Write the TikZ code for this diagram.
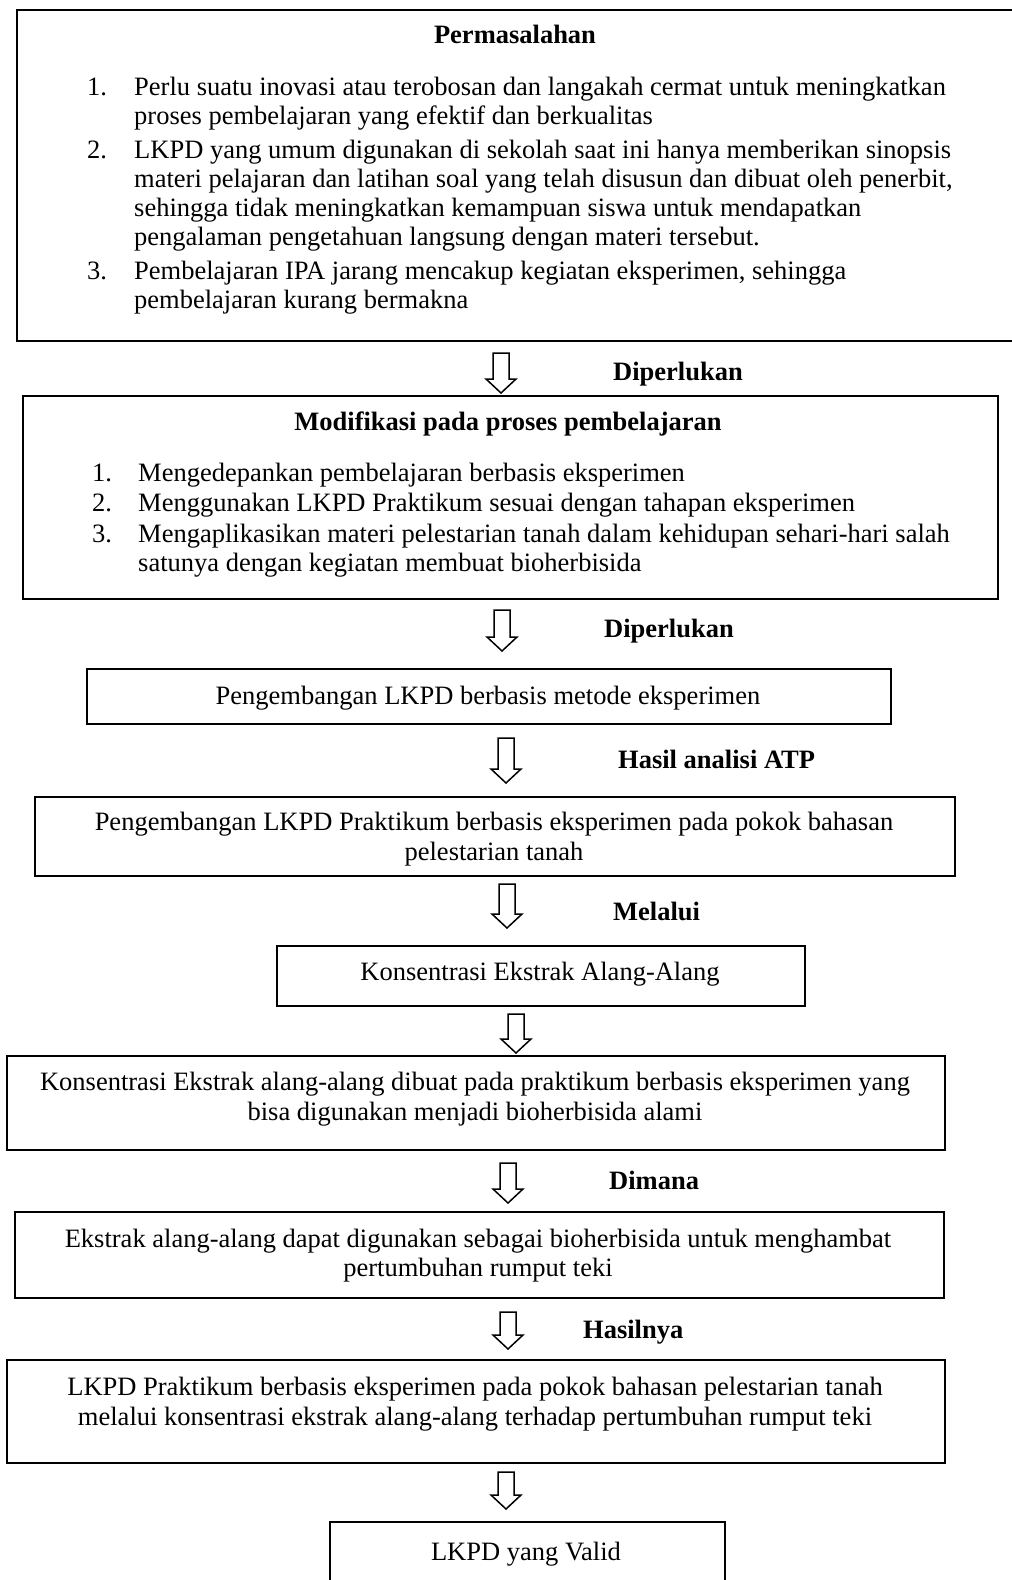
\documentclass[tikz,border=0pt]{standalone}
\usepackage{fontspec}
\setmainfont{Liberation Serif}
\usetikzlibrary{calc}
\tikzset{
  box/.style={draw, line width=2.2pt, rectangle, inner sep=0pt, anchor=north west},
  ln/.style={anchor=base west, inner sep=0pt},
  ctr/.style={anchor=base, inner sep=0pt},
  lbl/.style={anchor=base west, inner sep=0pt, font=\fontsize{26.5pt}{29pt}\selectfont\bfseries},
  blockarrow/.style={draw, line width=1.5pt, line join=miter,
    to path={let \p1=(\tikztostart), \p2=(\tikztotarget) in
      (\x1-8pt,\y1) -- (\x1+8pt,\y1) -- (\x1+8pt,\y2+14pt) -- (\x1+15pt,\y2+14pt)
      -- (\x1,\y2) -- (\x1-15pt,\y2+14pt) -- (\x1-8pt,\y2+14pt) -- cycle}}
}
\begin{document}
\begin{tikzpicture}[x=1pt,y=-1pt,font=\fontsize{26.5pt}{29pt}\selectfont]
\fill[white] (0,0) rectangle (1012,1580);
\useasboundingbox (0,0) rectangle (1012,1580);

% Boxes
\node[box, minimum width=1004pt, minimum height=331pt] (b1) at (16,9) {};
\node[box, minimum width=975pt, minimum height=203pt] (b2) at (22,395) {};
\node[box, minimum width=804pt, minimum height=55pt] (b3) at (86,668) {};
\node[box, minimum width=920pt, minimum height=79pt] (b4) at (34,796) {};
\node[box, minimum width=528pt, minimum height=60pt] (b5) at (276,945) {};
\node[box, minimum width=938pt, minimum height=94pt] (b6) at (6,1055) {};
\node[box, minimum width=929pt, minimum height=86pt] (b7) at (14,1211) {};
\node[box, minimum width=938pt, minimum height=103pt] (b8) at (6,1359) {};
\node[box, minimum width=395pt, minimum height=90pt] (b9) at (329,1521) {};

% Box 1 text
\node[ctr, font=\fontsize{26.5pt}{29pt}\selectfont\bfseries] (t1) at (515,43) {Permasalahan};
\node[ln] (n11) at (87,95) {1.};
\node[ln] (p11) at (134,95) {Perlu suatu inovasi atau terobosan dan langakah cermat untuk meningkatkan};
\node[ln] (p12) at (134,124) {proses pembelajaran yang efektif dan berkualitas};
\node[ln] (n12) at (87,158) {2.};
\node[ln] (p21) at (134,158) {LKPD yang umum digunakan di sekolah saat ini hanya memberikan sinopsis};
\node[ln] (p22) at (134,187) {materi pelajaran dan latihan soal yang telah disusun dan dibuat oleh penerbit,};
\node[ln] (p23) at (134,216) {sehingga tidak meningkatkan kemampuan siswa untuk mendapatkan};
\node[ln] (p24) at (134,245) {pengalaman pengetahuan langsung dengan materi tersebut.};
\node[ln] (n13) at (87,279) {3.};
\node[ln] (p31) at (134,279) {Pembelajaran IPA jarang mencakup kegiatan eksperimen, sehingga};
\node[ln] (p32) at (134,308) {pembelajaran kurang bermakna};

% Box 2 text
\node[ctr, font=\fontsize{26.5pt}{29pt}\selectfont\bfseries] (t2) at (508,430) {Modifikasi pada proses pembelajaran};
\node[ln] (n21) at (92,481) {1.};
\node[ln] (q11) at (138,481) {Mengedepankan pembelajaran berbasis eksperimen};
\node[ln] (n22) at (92,511) {2.};
\node[ln] (q21) at (138,511) {Menggunakan LKPD Praktikum sesuai dengan tahapan eksperimen};
\node[ln] (n23) at (92,542) {3.};
\node[ln] (q31) at (138,542) {Mengaplikasikan materi pelestarian tanah dalam kehidupan sehari-hari salah};
\node[ln] (q32) at (138,571) {satunya dengan kegiatan membuat bioherbisida};

% Other box texts
\node[ctr] (t3) at (488,704) {Pengembangan LKPD berbasis metode eksperimen};
\node[ctr] (t4a) at (494,830) {Pengembangan LKPD Praktikum berbasis eksperimen pada pokok bahasan};
\node[ctr] (t4b) at (494,860) {pelestarian tanah};
\node[ctr] (t5) at (540,980) {Konsentrasi Ekstrak Alang-Alang};
\node[ctr] (t6a) at (475,1090) {Konsentrasi Ekstrak alang-alang dibuat pada praktikum berbasis eksperimen yang};
\node[ctr] (t6b) at (475,1120) {bisa digunakan menjadi bioherbisida alami};
\node[ctr] (t7a) at (478,1247) {Ekstrak alang-alang dapat digunakan sebagai bioherbisida untuk menghambat};
\node[ctr] (t7b) at (478,1276) {pertumbuhan rumput teki};
\node[ctr] (t8a) at (475,1395) {LKPD Praktikum berbasis eksperimen pada pokok bahasan pelestarian tanah};
\node[ctr] (t8b) at (475,1425) {melalui konsentrasi ekstrak alang-alang terhadap pertumbuhan rumput teki};
\node[ctr] (t9) at (526,1560) {LKPD yang Valid};

% Labels
\node[lbl] (l1) at (613,380) {Diperlukan};
\node[lbl] (l2) at (604,637) {Diperlukan};
\node[lbl] (l3) at (618,768) {Hasil analisi ATP};
\node[lbl] (l4) at (613,920) {Melalui};
\node[lbl] (l5) at (609,1189) {Dimana};
\node[lbl] (l6) at (583,1338) {Hasilnya};

% Arrow end points
\coordinate (a1s) at (501,353);  \coordinate (a1e) at (501,393);
\coordinate (a2s) at (502,610);  \coordinate (a2e) at (502,651);
\coordinate (a3s) at (506,738);  \coordinate (a3e) at (506,783);
\coordinate (a4s) at (507,884);  \coordinate (a4e) at (507,928);
\coordinate (a5s) at (516,1014); \coordinate (a5e) at (516,1053);
\coordinate (a6s) at (508,1163); \coordinate (a6e) at (508,1203);
\coordinate (a7s) at (508,1312); \coordinate (a7e) at (508,1349);
\coordinate (a8s) at (506,1472); \coordinate (a8e) at (506,1509);

\draw[blockarrow] (a1s) to (a1e);
\draw[blockarrow] (a2s) to (a2e);
\draw[blockarrow] (a3s) to (a3e);
\draw[blockarrow] (a4s) to (a4e);
\draw[blockarrow] (a5s) to (a5e);
\draw[blockarrow] (a6s) to (a6e);
\draw[blockarrow] (a7s) to (a7e);
\draw[blockarrow] (a8s) to (a8e);
\end{tikzpicture}
\end{document}
